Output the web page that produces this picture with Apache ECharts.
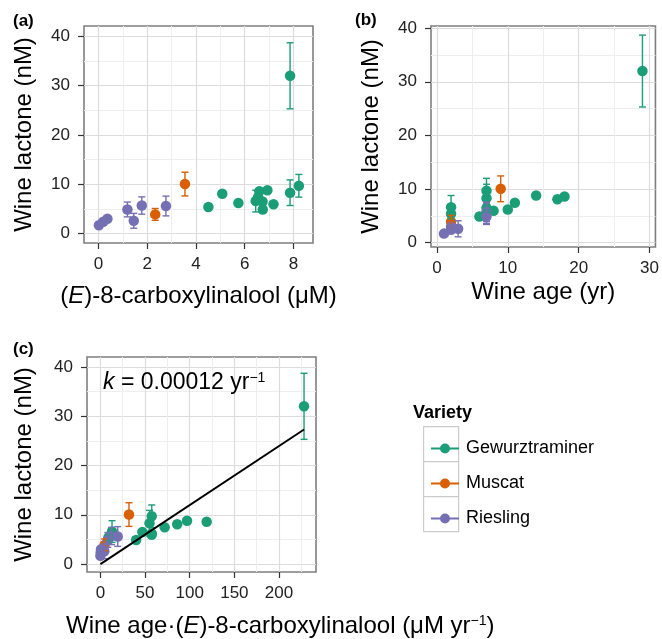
<!DOCTYPE html>
<html>
<head>
<meta charset="utf-8">
<script src="https://cdn.jsdelivr.net/npm/echarts@6.0.0/dist/echarts.min.js"></script>
<style>
html, body { margin: 0; padding: 0; background: #fff; }
#main { width: 662px; height: 639px; }
</style>
</head>
<body>
<div id="main"></div>
<script>
var varieties = ['Gewurztraminer', 'Muscat', 'Riesling'];
var colors = ['#1B9E77', '#D95F02', '#7570B3'];

// Gewurztraminer samples
var gewCarbox = [4.51, 6.45, 6.74, 6.73, 7.86, 8.22, 7.18, 5.74, 6.55, 6.93, 5.08, 6.60, 7.86];
var gewAge    = [2, 2, 6, 7, 7, 7, 8, 10, 11, 14, 17, 18, 29];
var gewProd   = [9, 13, 40, 47, 55, 57.5, 57.4, 57.4, 72, 97, 86, 119, 228];
var gewLact   = [5.4, 6.6, 4.9, 6.5, 8.3, 9.7, 5.95, 6.2, 7.45, 8.8, 8.1, 8.6, 32.0];
var gewErr    = [0.6, 2.2, 0.6, 0.4, 2.6, 2.3, 0.4, 0.3, 0.3, 0.3, 0.6, 0.3, 6.7];

// Muscat samples
var musCarbox = [2.33, 3.55];
var musAge    = [2, 9];
var musProd   = [4.7, 32];
var musLact   = [3.9, 10.05];
var musErr    = [1.2, 2.4];

// Riesling samples
var rieCarbox = [0.02, 0.2, 0.37, 1.19, 1.45, 1.78, 2.77];
var rieAge    = [1, 2, 2, 7, 3, 7, 7];
var rieProd   = [0, 0.4, 0.7, 8.3, 4.4, 12.5, 19.4];
var rieLact   = [1.7, 2.4, 3.0, 4.9, 2.6, 5.7, 5.6];
var rieErr    = [0.3, 0.3, 0.3, 1.5, 1.5, 1.75, 2.0];

// first-order fit, panel (c)
var fitX = [0, 228];
var fitY = [0, 27.3];

var xTicksA = [0, 2, 4, 6, 8],          xMinorA = [1, 3, 5, 7];
var xTicksB = [0, 10, 20, 30],          xMinorB = [5, 15, 25];
var xTicksC = [0, 50, 100, 150, 200],   xMinorC = [25, 75, 125, 175, 225];
var yTicks  = [0, 10, 20, 30, 40],      yMinor  = [5, 15, 25, 35];

var FONT = '"Liberation Sans", Arial, sans-serif';
var TITLE = 24;

var byVariety = [
    {x: [gewCarbox, gewAge, gewProd], y: gewLact, e: gewErr},
    {x: [musCarbox, musAge, musProd], y: musLact, e: musErr},
    {x: [rieCarbox, rieAge, rieProd], y: rieLact, e: rieErr}
];

var chart = echarts.init(document.getElementById('main'), null, {renderer: 'canvas'});

var grids = [
    {left: 84, top: 26, width: 229, height: 217},
    {left: 431, top: 26, width: 228, height: 221},
    {left: 87, top: 357, width: 229, height: 215}
].map(function (g) {
    g.show = true;
    g.borderColor = '#7F7F7F';
    g.borderWidth = 1.6;
    g.backgroundColor = '#fff';
    return g;
});

var xAxes = [], yAxes = [];
function addAxes(list, dim, gi, min, max, ticks, minor, name, gap) {
    // minor grid lines (hidden axis on the opposite side)
    list.push({
        type: 'value', gridIndex: gi, min: min, max: max,
        position: dim == 'x' ? 'top' : 'right',
        axisLine: {show: false, onZero: false},
        axisTick: {show: false, customValues: minor},
        axisLabel: {show: false, customValues: minor},
        splitLine: {show: true, lineStyle: {color: '#EEEEEE', width: 1}}
    });
    list.push({
        type: 'value', gridIndex: gi, min: min, max: max,
        position: dim == 'x' ? 'bottom' : 'left',
        name: name, nameLocation: 'middle', nameGap: gap,
        nameTextStyle: {fontFamily: FONT, fontSize: TITLE, color: '#000',
            rich: {i: {fontStyle: 'italic', fontSize: TITLE, fontFamily: FONT, color: '#000'}}},
        axisLine: {show: false, onZero: false},
        axisTick: {show: true, length: 6, customValues: ticks, lineStyle: {color: '#333', width: 1.2}},
        axisLabel: {customValues: ticks, margin: dim == 'x' ? 13 : 14,
            fontFamily: FONT, fontSize: 17, color: '#222'},
        splitLine: {show: true, lineStyle: {color: '#DCDCDC', width: 1.2}}
    });
}

addAxes(xAxes, 'x', 0, -0.59, 8.8, xTicksA, xMinorA, '({i|E})-8-carboxylinalool (\u03bcM)', 41);
addAxes(yAxes, 'y', 0, -1.9, 42.1, yTicks, yMinor, 'Wine lactone (nM)', 48);
addAxes(xAxes, 'x', 1, -0.83, 30.83, xTicksB, xMinorB, 'Wine age (yr)', 33);
addAxes(yAxes, 'y', 1, -0.8, 40.4, yTicks, yMinor, 'Wine lactone (nM)', 48);
addAxes(xAxes, 'x', 2, -15, 241.4, xTicksC, xMinorC, '', 40);
addAxes(yAxes, 'y', 2, -1.6, 42.0, yTicks, yMinor, 'Wine lactone (nM)', 51);

var series = [];
// points
for (var p = 0; p < 3; p++) {
    byVariety.forEach(function (v, k) {
        series.push({
            type: 'scatter', name: varieties[k],
            xAxisIndex: 2 * p + 1, yAxisIndex: 2 * p + 1,
            symbolSize: 10.5, z: 2,
            itemStyle: {color: colors[k], opacity: 1},
            data: v.x[p].map(function (x, i) { return [x, v.y[i]]; })
        });
    });
}
// error bars
for (var p = 0; p < 3; p++) {
    byVariety.forEach(function (v, k) {
        var col = colors[k];
        series.push({
            type: 'custom', name: varieties[k],
            xAxisIndex: 2 * p + 1, yAxisIndex: 2 * p + 1, z: 3,
            encode: {x: 0, y: [1, 2]},
            data: v.x[p].map(function (x, i) { return [x, v.y[i] - v.e[i], v.y[i] + v.e[i]]; }),
            renderItem: function (params, api) {
                var lo = api.coord([api.value(0), api.value(1)]);
                var hi = api.coord([api.value(0), api.value(2)]);
                var w = 3.5;
                var st = {stroke: col, lineWidth: 1.4};
                return {type: 'group', children: [
                    {type: 'line', shape: {x1: lo[0], y1: lo[1], x2: hi[0], y2: hi[1]}, style: st},
                    {type: 'line', shape: {x1: lo[0] - w, y1: lo[1], x2: lo[0] + w, y2: lo[1]}, style: st},
                    {type: 'line', shape: {x1: hi[0] - w, y1: hi[1], x2: hi[0] + w, y2: hi[1]}, style: st}
                ]};
            }
        });
    });
}
// fitted line
series.push({
    type: 'line', xAxisIndex: 5, yAxisIndex: 5, z: 4,
    symbol: 'none', lineStyle: {color: '#000', width: 2},
    data: fitX.map(function (x, i) { return [x, fitY[i]]; })
});

var ICON = 'path://M0,9L28,9L28,11L0,11Z M14,5A5,5,0,1,1,13.99,5Z';

var graphics = [
    {type: 'text', left: 13, top: 13, z: 100, style: {text: '(a)', font: 'bold 17px ' + FONT, fill: '#000'}},
    {type: 'text', left: 355, top: 12, z: 100, style: {text: '(b)', font: 'bold 17px ' + FONT, fill: '#000'}},
    {type: 'text', left: 13, top: 341, z: 100, style: {text: '(c)', font: 'bold 17px ' + FONT, fill: '#000'}},
    {type: 'text', left: 103, top: 371, z: 100, style: {
        text: '{i|k} = 0.00012 yr{s|\u22121}',
        font: '23px ' + FONT, fill: '#000',
        rich: {
            i: {fontStyle: 'italic', fontSize: 23, fontFamily: FONT, fill: '#000'},
            s: {fontSize: 14, fontFamily: FONT, fill: '#000', verticalAlign: 'top'}
        }
    }},
    {type: 'text', left: 66, top: 614, z: 100, style: {
        text: 'Wine age\u00b7({i|E})-8-carboxylinalool (\u03bcM yr{s|\u22121})',
        font: TITLE + 'px ' + FONT, fill: '#000',
        rich: {
            i: {fontStyle: 'italic', fontSize: TITLE, fontFamily: FONT, fill: '#000'},
            s: {fontSize: 14, fontFamily: FONT, fill: '#000', verticalAlign: 'top'}
        }
    }},
    {type: 'text', left: 413, top: 404, z: 100, style: {text: 'Variety', font: 'bold 18px ' + FONT, fill: '#000'}}
];
for (var b = 0; b < 3; b++) {
    graphics.push({type: 'rect', left: 423, top: 426 + 35 * b, z: -1,
        shape: {width: 35, height: 35}, style: {fill: '#fff', stroke: '#CCCCCC', lineWidth: 1.2}});
}

chart.setOption({
    animation: false,
    backgroundColor: '#fff',
    grid: grids,
    xAxis: xAxes,
    yAxis: yAxes,
    legend: {
        data: varieties.map(function (v) { return {name: v, icon: ICON}; }),
        orient: 'vertical', left: 426, top: 426,
        itemWidth: 28, itemHeight: 11, itemGap: 0,
        selectedMode: false,
        textStyle: {fontFamily: FONT, fontSize: 18, color: '#000', lineHeight: 35, padding: [0, 0, 0, 2]}
    },
    graphic: graphics,
    series: series
});
</script>
</body>
</html>
